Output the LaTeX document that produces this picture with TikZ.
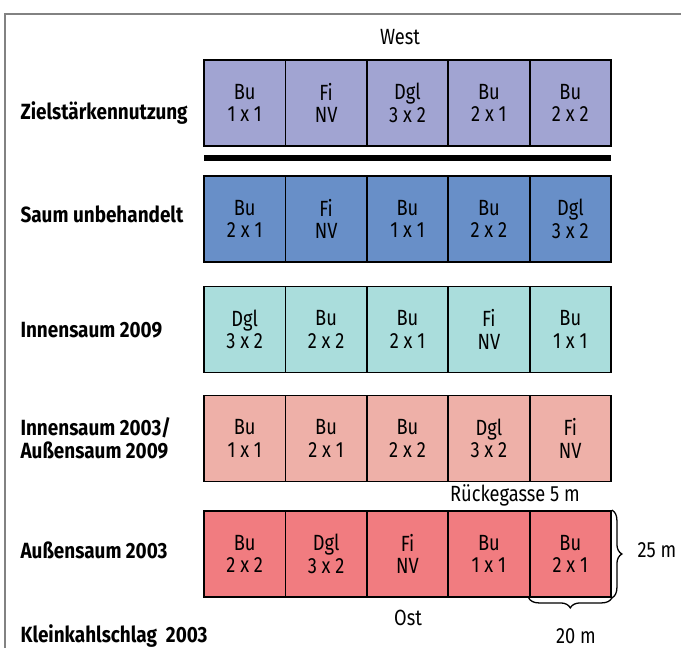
\documentclass[tikz,border=0pt]{standalone}
\usepackage{fontspec}
\setmainfont[FakeStretch=0.83, BoldFeatures={FakeStretch=0.86}]{Fira Sans}
\usetikzlibrary{decorations.pathreplacing}
\definecolor{cA}{RGB}{161,164,210}
\definecolor{cB}{RGB}{104,143,200}
\definecolor{cC}{RGB}{170,221,220}
\definecolor{cD}{RGB}{238,176,168}
\definecolor{cE}{RGB}{241,124,128}
\definecolor{framegray}{RGB}{130,130,130}
\begin{document}
\begin{tikzpicture}[x=1pt,y=-1pt,
  cell/.style={draw=black, line width=1.8pt, minimum width=81.4pt, minimum height=86pt,
    inner sep=0pt, align=center, font=\fontsize{22}{22.5}\selectfont},
  rowlabel/.style={anchor=west, align=left, font=\bfseries\fontsize{22}{23}\selectfont},
  plain/.style={font=\fontsize{22}{22}\selectfont},
  bracestyle/.style={draw=black, line width=1.3pt, decorate, decoration={brace, amplitude=10pt}}]
\useasboundingbox (0,0) rectangle (681,648);
\draw[framegray, line width=1.2pt] (5,648) -- (5,14) -- (681,14);
% row 1
\foreach \i/\t in {1/{Bu\\1 x 1},2/{Fi\\NV},3/{Dgl\\3 x 2},4/{Bu\\2 x 1},5/{Bu\\2 x 2}}
  \node[cell, fill=cA] (r1c\i) at ({204+81.4*(\i-0.5)},103) {\t};
% row 2
\foreach \i/\t in {1/{Bu\\2 x 1},2/{Fi\\NV},3/{Bu\\1 x 1},4/{Bu\\2 x 2},5/{Dgl\\3 x 2}}
  \node[cell, fill=cB] (r2c\i) at ({204+81.4*(\i-0.5)},219) {\t};
% row 3
\foreach \i/\t in {1/{Dgl\\3 x 2},2/{Bu\\2 x 2},3/{Bu\\2 x 1},4/{Fi\\NV},5/{Bu\\1 x 1}}
  \node[cell, fill=cC] (r3c\i) at ({204+81.4*(\i-0.5)},329.5) {\t};
% row 4
\foreach \i/\t in {1/{Bu\\1 x 1},2/{Bu\\2 x 1},3/{Bu\\2 x 2},4/{Dgl\\3 x 2},5/{Fi\\NV}}
  \node[cell, fill=cD] (r4c\i) at ({204+81.4*(\i-0.5)},438.5) {\t};
% row 5
\foreach \i/\t in {1/{Bu\\2 x 2},2/{Dgl\\3 x 2},3/{Fi\\NV},4/{Bu\\1 x 1},5/{Bu\\2 x 1}}
  \node[cell, fill=cE] (r5c\i) at ({204+81.4*(\i-0.5)},554) {\t};
% black bar
\fill[black] (204,155) rectangle (611,161);
% texts
\node[plain] (west) at (400,37) {West};
\node[plain] (ost) at (408,618) {Ost};
\node[plain] (gasse) at (515,495) {Rückegasse 5 m};
\node[rowlabel] (l1) at (17,113) {Zielstärkennutzung};
\node[rowlabel] (l2) at (17,214) {Saum unbehandelt};
\node[rowlabel] (l3) at (17,330) {Innensaum 2009};
\node[rowlabel] (l4) at (17,438) {Innensaum 2003/\\Außensaum 2009};
\node[rowlabel] (l5) at (17,550) {Außensaum 2003};
\node[rowlabel] (l6) at (17,636) {Kleinkahlschlag\ \ 2003};
% braces
\draw[bracestyle] (r5c5.north east) -- (r5c5.south east);
\draw[bracestyle] (r5c5.south east) -- (r5c5.south west);
\node[plain] (h25) at (657,550) {25 m};
\node[plain] (w20) at (576,636) {20 m};
\end{tikzpicture}
\end{document}
